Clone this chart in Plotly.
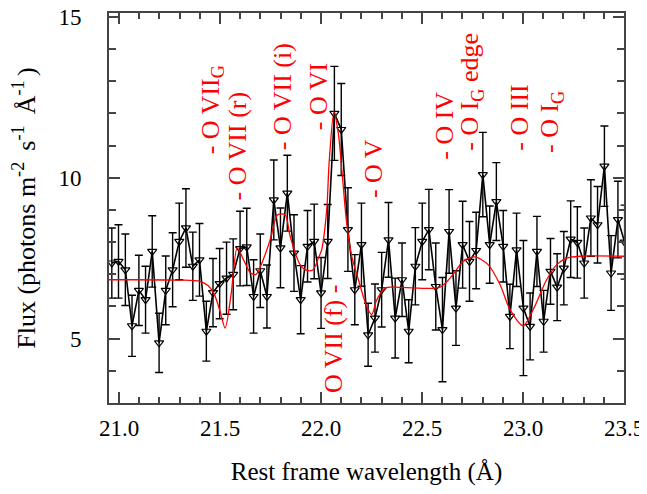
import plotly.graph_objects as go

# observed spectrum (bin centres, flux, 1-sigma errors)
wavelength = [20.964, 20.997, 21.031, 21.064, 21.098, 21.131, 21.164, 21.198, 21.231, 21.265,
              21.298, 21.331, 21.365, 21.398, 21.432, 21.465, 21.498, 21.532, 21.565, 21.599,
              21.632, 21.666, 21.699, 21.732, 21.766, 21.799, 21.833, 21.866, 21.899, 21.933,
              21.966, 22.000, 22.033, 22.066, 22.100, 22.133, 22.167, 22.200, 22.233, 22.267,
              22.300, 22.334, 22.367, 22.401, 22.434, 22.467, 22.501, 22.534, 22.568, 22.601,
              22.634, 22.668, 22.701, 22.735, 22.768, 22.801, 22.835, 22.868, 22.902, 22.935,
              22.968, 23.002, 23.035, 23.069, 23.102, 23.136, 23.169, 23.202, 23.236, 23.269,
              23.303, 23.336, 23.369, 23.403, 23.436, 23.470, 23.503]
flux = [7.35, 7.40, 7.14, 5.40, 6.50, 6.21, 7.71, 4.87, 6.50, 7.14,
        8.02, 8.44, 7.25, 7.45, 5.23, 6.43, 6.71, 6.88, 7.00, 7.80,
        7.85, 6.31, 7.11, 6.31, 9.31, 7.82, 9.52, 7.66, 6.21, 7.87,
        8.02, 6.42, 8.02, 12.00, 11.50, 8.39, 6.52, 7.92, 5.12, 5.64,
        6.52, 8.07, 5.64, 6.83, 5.23, 7.25, 8.02, 8.39, 6.62, 5.28,
        8.33, 5.95, 7.92, 7.40, 7.74, 10.10, 7.92, 9.26, 7.87, 5.69,
        7.76, 5.95, 5.38, 7.71, 5.54, 7.09, 6.60, 7.19, 8.09, 7.99,
        7.35, 8.75, 8.54, 10.36, 7.04, 8.70, 8.00]
flux_err = [1.09, 1.14, 1.11, 0.95, 1.09, 1.04, 1.11, 0.92, 1.07, 1.15,
            1.19, 1.22, 1.06, 1.13, 0.93, 1.06, 1.09, 1.12, 1.10, 1.16,
            1.20, 1.14, 1.14, 0.98, 1.24, 1.24, 1.18, 1.19, 1.06, 1.11,
            1.16, 1.10, 1.15, 1.46, 1.43, 1.30, 1.09, 1.29, 0.98, 1.06,
            1.16, 1.16, 1.24, 1.14, 0.98, 1.20, 1.19, 1.25, 1.35, 1.62,
            1.30, 1.16, 1.35, 1.24, 1.19, 1.31, 1.20, 1.21, 1.11, 1.00,
            1.14, 2.10, 1.04, 1.09, 0.96, 1.02, 1.04, 1.14, 1.19, 1.11,
            1.09, 1.19, 1.19, 1.25, 1.16, 1.19, 1.15]

# best-fit model
model_wl = [20.95, 21.30, 21.40, 21.44, 21.47, 21.50, 21.525, 21.555, 21.585, 21.62,
            21.65, 21.678, 21.71, 21.748, 21.785, 21.822, 21.847, 21.896, 21.929, 21.96,
            21.99, 22.003, 22.028, 22.040, 22.064, 22.085, 22.105, 22.125, 22.152, 22.185,
            22.226, 22.251, 22.276, 22.317, 22.36, 22.59, 22.653, 22.703, 22.762, 22.827,
            22.886, 22.936, 23.001, 23.05, 23.117, 23.167, 23.216, 23.282, 23.50]
model_flux = [6.83, 6.82, 6.78, 6.65, 6.40, 5.85, 5.33, 6.40, 7.82, 7.40,
              7.05, 7.00, 7.40, 8.07, 8.85, 8.85, 8.18, 7.30, 7.12, 7.14,
              7.55, 7.76, 9.00, 10.47, 12.05, 11.40, 10.10, 8.70, 7.56, 6.83,
              6.00, 5.75, 6.21, 6.57, 6.60, 6.60, 6.99, 7.40, 7.54, 7.30,
              6.68, 5.90, 5.40, 5.90, 6.83, 7.30, 7.50, 7.56, 7.56]

# line identifications: text, x, y (bottom of rotated text)
line_labels = ["- O VII<sub>G</sub>", "- O VII (r)", "- O VII (i)", "- O VI", "- O V",
               "- O IV", "- O I<sub>G</sub> edge", "- O III", "- O I<sub>G</sub>", "O VII (f) -"]
label_x = [21.46, 21.584, 21.807, 21.985, 22.257, 22.614, 22.743, 22.985, 23.139, 22.059]
label_y = [10.65, 9.22, 10.78, 11.40, 9.32, 10.50, 10.78, 10.78, 10.71, 3.26]

FONT = "Liberation Serif"

fig = go.Figure()
fig.add_trace(go.Scatter(
    x=wavelength, y=flux, mode="lines+markers",
    line=dict(color="black", width=1.6),
    marker=dict(symbol="triangle-down-open", size=8, color="black", line=dict(width=1.2)),
    error_y=dict(type="data", array=flux_err, color="black", thickness=1.4, width=4),
    showlegend=False,
))
fig.add_trace(go.Scatter(
    x=model_wl, y=model_flux, mode="lines",
    line=dict(color="red", width=1.3, shape="spline", smoothing=0.8),
    showlegend=False,
))

for txt, lx, ly in zip(line_labels, label_x, label_y):
    fig.add_annotation(x=lx, y=ly, text=txt, showarrow=False, textangle=-90,
                       xanchor="center", yanchor="bottom",
                       font=dict(family=FONT, size=26, color="red"))

axis_common = dict(showline=True, linecolor="#444", linewidth=2, mirror="allticks",
                   ticks="inside", tickcolor="#444", tickwidth=2, showgrid=False,
                   zeroline=False, automargin=False, ticklabeloverflow="allow",
                   tickfont=dict(family=FONT, size=23, color="black"))

fig.update_xaxes(range=[20.95, 23.5], tick0=21.0, dtick=0.5, tickformat=".1f", ticklen=11,
                 minor=dict(dtick=0.1, ticks="inside", ticklen=6, tickcolor="#444", tickwidth=1.5),
                 ticklabelstandoff=3,
                 title=dict(text="Rest frame wavelength (Å)", standoff=24,
                            font=dict(family=FONT, size=25, color="black")),
                 **axis_common)
fig.update_yaxes(range=[3.0, 15.12], tick0=0, dtick=5, ticklen=11,
                 minor=dict(dtick=1, ticks="inside", ticklen=7, tickcolor="#444", tickwidth=1.5),
                 ticklabelstandoff=21,
                 title=dict(text="Flux (photons m<sup>-2 </sup> s<sup>-1 </sup> Å<sup>-1 </sup>)",
                            standoff=15, font=dict(family=FONT, size=26, color="black")),
                 **axis_common)

# the page adds an 8px body margin; keep the page from scrolling and offset the margins
fig.update_layout(width=639, height=478, margin=dict(l=101, r=23, t=5, b=83),
                  plot_bgcolor="white", paper_bgcolor="white",
                  font=dict(family=FONT, color="black"))

fig.write_html("out.html")
